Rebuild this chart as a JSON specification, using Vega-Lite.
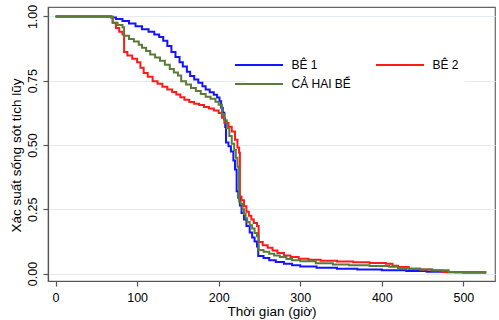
{
  "$schema": "https://vega.github.io/schema/vega-lite/v6.json",
  "width": 447,
  "height": 274,
  "autosize": "none",
  "padding": {"left": 48, "top": 7, "right": 4, "bottom": 39},
  "background": "white",
  "config": {
    "font": "Liberation Sans",
    "view": {"stroke": "#666666", "strokeWidth": 1.2}
  },
  "data": {"values": [
    {"g":"BÊ 1","t":0,"s":1},{"g":"BÊ 1","t":68,"s":0.996},{"g":"BÊ 1","t":74,"s":0.99},{"g":"BÊ 1","t":82,"s":0.982},{"g":"BÊ 1","t":90,"s":0.972},{"g":"BÊ 1","t":98,"s":0.962},{"g":"BÊ 1","t":106,"s":0.95},{"g":"BÊ 1","t":114,"s":0.94},{"g":"BÊ 1","t":121,"s":0.93},{"g":"BÊ 1","t":127,"s":0.92},{"g":"BÊ 1","t":132,"s":0.905},{"g":"BÊ 1","t":137,"s":0.885},{"g":"BÊ 1","t":142,"s":0.862},{"g":"BÊ 1","t":147,"s":0.842},{"g":"BÊ 1","t":152,"s":0.822},{"g":"BÊ 1","t":156,"s":0.805},{"g":"BÊ 1","t":161,"s":0.785},{"g":"BÊ 1","t":165,"s":0.768},{"g":"BÊ 1","t":170,"s":0.755},{"g":"BÊ 1","t":175,"s":0.742},{"g":"BÊ 1","t":180,"s":0.728},{"g":"BÊ 1","t":184,"s":0.716},{"g":"BÊ 1","t":189,"s":0.705},{"g":"BÊ 1","t":194,"s":0.695},{"g":"BÊ 1","t":198,"s":0.685},{"g":"BÊ 1","t":201,"s":0.67},{"g":"BÊ 1","t":203,"s":0.645},{"g":"BÊ 1","t":205,"s":0.625},{"g":"BÊ 1","t":207,"s":0.6},{"g":"BÊ 1","t":208,"s":0.57},{"g":"BÊ 1","t":209,"s":0.51},{"g":"BÊ 1","t":212,"s":0.495},{"g":"BÊ 1","t":215,"s":0.475},{"g":"BÊ 1","t":218,"s":0.44},{"g":"BÊ 1","t":220,"s":0.405},{"g":"BÊ 1","t":222,"s":0.32},{"g":"BÊ 1","t":224,"s":0.295},{"g":"BÊ 1","t":226,"s":0.265},{"g":"BÊ 1","t":228,"s":0.235},{"g":"BÊ 1","t":231,"s":0.21},{"g":"BÊ 1","t":234,"s":0.185},{"g":"BÊ 1","t":238,"s":0.16},{"g":"BÊ 1","t":241,"s":0.14},{"g":"BÊ 1","t":244,"s":0.125},{"g":"BÊ 1","t":247,"s":0.105},{"g":"BÊ 1","t":248.5,"s":0.068},{"g":"BÊ 1","t":255,"s":0.06},{"g":"BÊ 1","t":262,"s":0.052},{"g":"BÊ 1","t":270,"s":0.045},{"g":"BÊ 1","t":280,"s":0.038},{"g":"BÊ 1","t":290,"s":0.032},{"g":"BÊ 1","t":300,"s":0.027},{"g":"BÊ 1","t":320,"s":0.023},{"g":"BÊ 1","t":345,"s":0.019},{"g":"BÊ 1","t":370,"s":0.016},{"g":"BÊ 1","t":400,"s":0.013},{"g":"BÊ 1","t":430,"s":0.01},{"g":"BÊ 1","t":455,"s":0.007},{"g":"BÊ 1","t":480,"s":0.005},{"g":"BÊ 1","t":500,"s":0.004},{"g":"BÊ 1","t":528,"s":0.004},
    {"g":"BÊ 2","t":0,"s":1},{"g":"BÊ 2","t":68,"s":1},{"g":"BÊ 2","t":70,"s":0.975},{"g":"BÊ 2","t":74,"s":0.955},{"g":"BÊ 2","t":78,"s":0.94},{"g":"BÊ 2","t":82,"s":0.93},{"g":"BÊ 2","t":84,"s":0.862},{"g":"BÊ 2","t":88,"s":0.848},{"g":"BÊ 2","t":94,"s":0.835},{"g":"BÊ 2","t":100,"s":0.822},{"g":"BÊ 2","t":104,"s":0.8},{"g":"BÊ 2","t":108,"s":0.78},{"g":"BÊ 2","t":113,"s":0.765},{"g":"BÊ 2","t":119,"s":0.748},{"g":"BÊ 2","t":125,"s":0.738},{"g":"BÊ 2","t":131,"s":0.726},{"g":"BÊ 2","t":137,"s":0.716},{"g":"BÊ 2","t":143,"s":0.706},{"g":"BÊ 2","t":148,"s":0.696},{"g":"BÊ 2","t":153,"s":0.686},{"g":"BÊ 2","t":158,"s":0.676},{"g":"BÊ 2","t":164,"s":0.667},{"g":"BÊ 2","t":170,"s":0.66},{"g":"BÊ 2","t":176,"s":0.655},{"g":"BÊ 2","t":182,"s":0.648},{"g":"BÊ 2","t":188,"s":0.642},{"g":"BÊ 2","t":194,"s":0.634},{"g":"BÊ 2","t":200,"s":0.624},{"g":"BÊ 2","t":204,"s":0.606},{"g":"BÊ 2","t":207,"s":0.585},{"g":"BÊ 2","t":212,"s":0.571},{"g":"BÊ 2","t":216,"s":0.552},{"g":"BÊ 2","t":220,"s":0.52},{"g":"BÊ 2","t":223,"s":0.49},{"g":"BÊ 2","t":225,"s":0.47},{"g":"BÊ 2","t":226,"s":0.3},{"g":"BÊ 2","t":228,"s":0.285},{"g":"BÊ 2","t":231,"s":0.262},{"g":"BÊ 2","t":234,"s":0.24},{"g":"BÊ 2","t":237,"s":0.225},{"g":"BÊ 2","t":240,"s":0.21},{"g":"BÊ 2","t":243,"s":0.197},{"g":"BÊ 2","t":247,"s":0.185},{"g":"BÊ 2","t":249,"s":0.123},{"g":"BÊ 2","t":254,"s":0.11},{"g":"BÊ 2","t":260,"s":0.1},{"g":"BÊ 2","t":266,"s":0.09},{"g":"BÊ 2","t":272,"s":0.08},{"g":"BÊ 2","t":280,"s":0.07},{"g":"BÊ 2","t":288,"s":0.064},{"g":"BÊ 2","t":298,"s":0.058},{"g":"BÊ 2","t":310,"s":0.054},{"g":"BÊ 2","t":325,"s":0.05},{"g":"BÊ 2","t":345,"s":0.047},{"g":"BÊ 2","t":365,"s":0.044},{"g":"BÊ 2","t":385,"s":0.041},{"g":"BÊ 2","t":405,"s":0.038},{"g":"BÊ 2","t":413,"s":0.03},{"g":"BÊ 2","t":420,"s":0.025},{"g":"BÊ 2","t":433,"s":0.019},{"g":"BÊ 2","t":447,"s":0.016},{"g":"BÊ 2","t":461,"s":0.012},{"g":"BÊ 2","t":474,"s":0.006},{"g":"BÊ 2","t":490,"s":0.005},{"g":"BÊ 2","t":528,"s":0.005},
    {"g":"CẢ HAI BỂ","t":0,"s":1},{"g":"CẢ HAI BỂ","t":68,"s":0.998},{"g":"CẢ HAI BỂ","t":70,"s":0.975},{"g":"CẢ HAI BỂ","t":76,"s":0.967},{"g":"CẢ HAI BỂ","t":82,"s":0.958},{"g":"CẢ HAI BỂ","t":84,"s":0.925},{"g":"CẢ HAI BỂ","t":90,"s":0.912},{"g":"CẢ HAI BỂ","t":96,"s":0.902},{"g":"CẢ HAI BỂ","t":102,"s":0.89},{"g":"CẢ HAI BỂ","t":106,"s":0.878},{"g":"CẢ HAI BỂ","t":111,"s":0.865},{"g":"CẢ HAI BỂ","t":116,"s":0.852},{"g":"CẢ HAI BỂ","t":122,"s":0.84},{"g":"CẢ HAI BỂ","t":128,"s":0.828},{"g":"CẢ HAI BỂ","t":134,"s":0.812},{"g":"CẢ HAI BỂ","t":140,"s":0.795},{"g":"CẢ HAI BỂ","t":145,"s":0.782},{"g":"CẢ HAI BỂ","t":150,"s":0.77},{"g":"CẢ HAI BỂ","t":154,"s":0.748},{"g":"CẢ HAI BỂ","t":160,"s":0.735},{"g":"CẢ HAI BỂ","t":166,"s":0.722},{"g":"CẢ HAI BỂ","t":172,"s":0.71},{"g":"CẢ HAI BỂ","t":178,"s":0.698},{"g":"CẢ HAI BỂ","t":184,"s":0.688},{"g":"CẢ HAI BỂ","t":190,"s":0.68},{"g":"CẢ HAI BỂ","t":196,"s":0.668},{"g":"CẢ HAI BỂ","t":200,"s":0.656},{"g":"CẢ HAI BỂ","t":204,"s":0.62},{"g":"CẢ HAI BỂ","t":207,"s":0.595},{"g":"CẢ HAI BỂ","t":210,"s":0.565},{"g":"CẢ HAI BỂ","t":213,"s":0.535},{"g":"CẢ HAI BỂ","t":216,"s":0.505},{"g":"CẢ HAI BỂ","t":219,"s":0.48},{"g":"CẢ HAI BỂ","t":221,"s":0.45},{"g":"CẢ HAI BỂ","t":223,"s":0.415},{"g":"CẢ HAI BỂ","t":225,"s":0.28},{"g":"CẢ HAI BỂ","t":227,"s":0.27},{"g":"CẢ HAI BỂ","t":229,"s":0.25},{"g":"CẢ HAI BỂ","t":231,"s":0.232},{"g":"CẢ HAI BỂ","t":233,"s":0.215},{"g":"CẢ HAI BỂ","t":235,"s":0.2},{"g":"CẢ HAI BỂ","t":238,"s":0.188},{"g":"CẢ HAI BỂ","t":241,"s":0.175},{"g":"CẢ HAI BỂ","t":244,"s":0.158},{"g":"CẢ HAI BỂ","t":247,"s":0.145},{"g":"CẢ HAI BỂ","t":249,"s":0.092},{"g":"CẢ HAI BỂ","t":255,"s":0.085},{"g":"CẢ HAI BỂ","t":262,"s":0.077},{"g":"CẢ HAI BỂ","t":268,"s":0.07},{"g":"CẢ HAI BỂ","t":275,"s":0.064},{"g":"CẢ HAI BỂ","t":283,"s":0.057},{"g":"CẢ HAI BỂ","t":290,"s":0.052},{"g":"CẢ HAI BỂ","t":300,"s":0.048},{"g":"CẢ HAI BỂ","t":319,"s":0.04},{"g":"CẢ HAI BỂ","t":340,"s":0.035},{"g":"CẢ HAI BỂ","t":360,"s":0.032},{"g":"CẢ HAI BỂ","t":385,"s":0.029},{"g":"CẢ HAI BỂ","t":409,"s":0.026},{"g":"CẢ HAI BỂ","t":420,"s":0.022},{"g":"CẢ HAI BỂ","t":433,"s":0.019},{"g":"CẢ HAI BỂ","t":447,"s":0.016},{"g":"CẢ HAI BỂ","t":462,"s":0.013},{"g":"CẢ HAI BỂ","t":482,"s":0.006},{"g":"CẢ HAI BỂ","t":500,"s":0.005},{"g":"CẢ HAI BỂ","t":528,"s":0.005}
  ]},
  "mark": {"type": "line", "interpolate": "step-after", "strokeWidth": 2, "clip": true},
  "encoding": {
    "x": {
      "field": "t", "type": "quantitative",
      "scale": {"domain": [-9.3, 538.8], "nice": false, "zero": false},
      "axis": {
        "values": [0, 100, 200, 300, 400, 500],
        "title": "Thời gian (giờ)",
        "grid": false,
        "domainColor": "#555555", "domainWidth": 1.2,
        "tickColor": "#555555", "tickSize": 5, "tickWidth": 1.2,
        "labelFontSize": 12.5, "labelColor": "#000000", "labelPadding": 5,
        "titleFontSize": 13.5, "titleFontWeight": "normal", "titleColor": "#000000",
        "titleBaseline": "alphabetic", "titleY": 34
      }
    },
    "y": {
      "field": "s", "type": "quantitative",
      "scale": {"domain": [-0.029, 1.0366], "nice": false, "zero": false},
      "axis": {
        "values": [0, 0.25, 0.5, 0.75, 1],
        "format": ".2f",
        "title": "Xác suất sống sót tích lũy",
        "grid": true, "gridColor": "#e3ecf1", "gridWidth": 1.2,
        "domainColor": "#555555", "domainWidth": 1.2,
        "tickColor": "#555555", "tickSize": 5, "tickWidth": 1.2,
        "labelFontSize": 12.5, "labelColor": "#000000",
        "labelAngle": -90, "labelAlign": "center", "labelBaseline": "bottom", "labelPadding": 4,
        "titleFontSize": 13.5, "titleFontWeight": "normal", "titleColor": "#000000",
        "titleAngle": -90, "titleAlign": "center", "titleBaseline": "middle",
        "titleX": -32, "titleY": 148
      }
    },
    "color": {
      "field": "g", "type": "nominal",
      "scale": {"domain": ["BÊ 1", "BÊ 2", "CẢ HAI BỂ"], "range": ["#1414ff", "#ff1a1a", "#5b7b3b"]},
      "legend": {
        "title": null,
        "orient": "none",
        "legendX": 198,
        "legendY": 45,
        "direction": "horizontal",
        "columns": 2,
        "padding": 6,
        "fillColor": "white",
        "symbolType": "M-4,0H4",
        "symbolSize": 144,
        "symbolStrokeWidth": 2,
        "labelOffset": 25.5,
        "labelFontSize": 12,
        "labelColor": "#000000",
        "rowPadding": 6,
        "columnPadding": 21
      }
    }
  }
}
